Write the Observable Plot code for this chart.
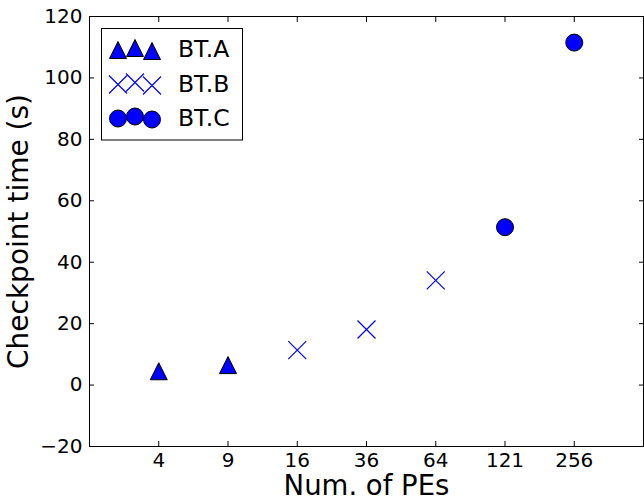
<!DOCTYPE html>
<html>
<head>
<meta charset="utf-8">
<script src="https://cdn.jsdelivr.net/npm/d3@7"></script>
<script src="https://cdn.jsdelivr.net/npm/@observablehq/plot@0.6"></script>
<style>
  html, body { margin: 0; padding: 0; background: #fff; }
  #chart { width: 644px; height: 500px; }
</style>
</head>
<body>
<div id="chart"></div>
<script>
// ---- data ----
const categories = ["4", "9", "16", "36", "64", "121", "256"];
const yTicks = [-20, 0, 20, 40, 60, 80, 100, 120];
const seriesNames = ["BT.A", "BT.B", "BT.C"];
const catA = ["4", "9"];
const valA = [4.5, 6.5];
const catB = ["16", "36", "64"];
const valB = [11.4, 18.1, 34.1];
const catC = ["121", "256"];
const valC = [51.4, 111.5];
const xLabel = "Num. of PEs";
const yLabel = "Checkpoint time (s)";

// ---- derived tables ----
const pos = c => categories.indexOf(c) + 1;
const rowsA = catA.map((c, i) => ({x: pos(c), y: valA[i], s: seriesNames[0]}));
const rowsB = catB.map((c, i) => ({x: pos(c), y: valB[i], s: seriesNames[1]}));
const rowsC = catC.map((c, i) => ({x: pos(c), y: valC[i], s: seriesNames[2]}));
const xTicks = categories.map((c, i) => i + 1);

// ---- custom matplotlib-like symbols ----
const triangle = {
  draw(ctx, size) {
    const r = Math.sqrt(size / Math.PI);
    ctx.moveTo(0, -r); ctx.lineTo(r, r); ctx.lineTo(-r, r); ctx.closePath();
  }
};
const cross = {
  draw(ctx, size) {
    const r = Math.sqrt(size / Math.PI);
    ctx.moveTo(-r, -r); ctx.lineTo(r, r);
    ctx.moveTo(-r, r); ctx.lineTo(r, -r);
  }
};
const blue = "#0000ff";
const R = 8.5;
const tickFont = 20;

const chart = Plot.plot({
  width: 644,
  height: 500,
  marginLeft: 89,
  marginRight: 1,
  marginTop: 16,
  marginBottom: 54,
  style: {fontFamily: "'DejaVu Sans', sans-serif", color: "black", background: "white"},
  x: {domain: [0, 8], axis: null},
  y: {domain: [-20, 120], axis: null},
  marks: [
    Plot.axisX(xTicks, {anchor: "bottom", tickSize: -5, tickPadding: 11, fontSize: tickFont,
      tickFormat: d => categories[d - 1], label: null, stroke: "black"}),
    Plot.axisX(xTicks, {anchor: "top", tickSize: -5, tickFormat: () => "", label: null, stroke: "black"}),
    Plot.axisY(yTicks, {anchor: "left", tickSize: -5, tickPadding: 12, fontSize: tickFont,
      tickFormat: d => d < 0 ? "\u2212" + Math.abs(d) : String(d), label: null, stroke: "black"}),
    Plot.axisY(yTicks, {anchor: "right", tickSize: -5, tickFormat: () => "", label: null, stroke: "black"}),
    Plot.frame({stroke: "black", strokeWidth: 1}),
    Plot.dot(rowsA, {x: "x", y: "y", symbol: triangle, r: R, fill: blue, stroke: "black", strokeWidth: 1}),
    Plot.dot(rowsB, {x: "x", y: "y", symbol: cross, r: R + 0.5, fill: "none", stroke: blue, strokeWidth: 1.2}),
    Plot.dot(rowsC, {x: "x", y: "y", symbol: "circle", r: R, fill: blue, stroke: "black", strokeWidth: 1}),
    Plot.text([xLabel], {frameAnchor: "bottom", textAnchor: "middle", lineAnchor: "middle", dy: 40, fontSize: 27.5, fill: "black"}),
    Plot.text([yLabel], {frameAnchor: "left", textAnchor: "middle", rotate: -90, lineAnchor: "middle", dx: -70, fontSize: 28, fill: "black"})
  ]
});

// ---- legend (drawn inside the plot area, matplotlib style) ----
const svg = d3.select(chart);
const lg = svg.append("g").attr("class", "legend");
lg.append("rect")
  .attr("x", 101.5).attr("y", 28.5).attr("width", 141).attr("height", 111.5)
  .attr("fill", "white").attr("stroke", "black").attr("stroke-width", 1);
const legendRows = [
  {name: seriesNames[0], base: 57, sym: triangle, fill: blue, stroke: "black", sw: 1, r: R},
  {name: seriesNames[1], base: 91.5, sym: cross, fill: "none", stroke: blue, sw: 1.2, r: R + 0.5},
  {name: seriesNames[2], base: 125.5, sym: d3.symbolCircle, fill: blue, stroke: "black", sw: 1, r: R}
];
const xOff = [118, 135, 152];
const yOff = [-7, -9, -6];
legendRows.forEach(row => {
  const path = d3.symbol().type(row.sym).size(Math.PI * row.r * row.r)();
  xOff.forEach((xo, j) => {
    lg.append("path")
      .attr("d", path)
      .attr("transform", `translate(${xo},${row.base + yOff[j]})`)
      .attr("fill", row.fill).attr("stroke", row.stroke).attr("stroke-width", row.sw);
  });
  lg.append("text")
    .attr("x", 178).attr("y", row.base)
    .style("font-size", "23.5px")
    .style("font-family", "'DejaVu Sans', sans-serif")
    .style("text-anchor", "start")
    .attr("fill", "black")
    .text(row.name);
});

document.getElementById("chart").appendChild(chart);
</script>
</body>
</html>
